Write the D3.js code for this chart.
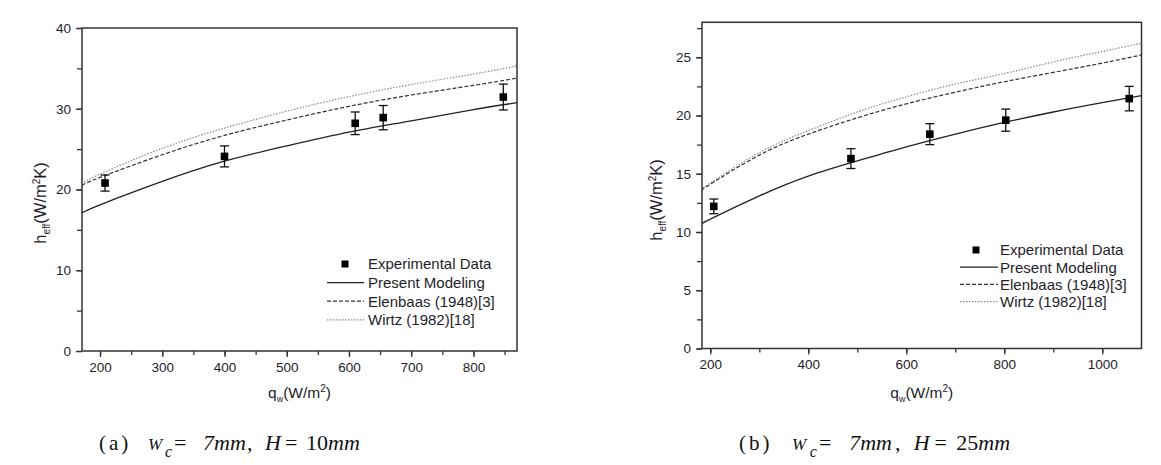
<!DOCTYPE html>
<html><head><meta charset="utf-8">
<script src="https://cdn.jsdelivr.net/npm/d3@7"></script>
<style>body{margin:0;background:#fff}svg{display:block}</style></head>
<body>
<svg id="c" width="1161" height="465"></svg>
<script>
// ---------- Panel (a) data ----------
const qA_exp = [208, 400, 610, 655, 848];
const hA_exp = [20.8, 24.1, 28.2, 28.9, 31.45];
const eA_exp = [1.0, 1.3, 1.4, 1.5, 1.6];
const qA_model = [171, 200, 300, 400, 500, 600, 700, 800, 870];
const hA_present  = [17.1, 18.1, 21.0, 23.5, 25.4, 27.1, 28.5, 29.9, 30.75];
const hA_elenbaas = [20.5, 21.5, 24.3, 26.7, 28.6, 30.3, 31.7, 32.9, 33.8];
const hA_wirtz    = [20.7, 21.9, 25.1, 27.6, 29.7, 31.5, 33.0, 34.3, 35.3];
const xTicksA = [200, 300, 400, 500, 600, 700, 800];
const yTicksA = [0, 10, 20, 30, 40];

// ---------- Panel (b) data ----------
const qB_exp = [207, 487, 648, 803, 1055];
const hB_exp = [12.2, 16.3, 18.4, 19.6, 21.45];
const eB_exp = [0.63, 0.85, 0.9, 0.95, 1.05];
const qB_model = [183, 200, 300, 400, 500, 600, 700, 800, 900, 1000, 1080];
const hB_present  = [10.7, 11.1, 13.1, 14.8, 16.1, 17.3, 18.4, 19.4, 20.3, 21.1, 21.7];
const hB_elenbaas = [13.6, 14.1, 16.6, 18.4, 19.8, 21.0, 22.0, 22.9, 23.7, 24.5, 25.2];
const hB_wirtz    = [13.7, 14.2, 16.8, 18.7, 20.3, 21.6, 22.7, 23.6, 24.6, 25.5, 26.2];
const xTicksB = [200, 400, 600, 800, 1000];
const yTicksB = [0, 5, 10, 15, 20, 25];

const legendLabels = ["Experimental Data", "Present Modeling", "Elenbaas (1948)[3]", "Wirtz (1982)[18]"];

const svg = d3.select("#c");
const FONT = "'Liberation Sans', Arial, sans-serif";
const SERIF = "'Liberation Serif', 'Times New Roman', serif";
const TXT = "#1e1e2a";

const styles = [
  {stroke: "#222", width: 1.3, dash: null},
  {stroke: "#333", width: 1.2, dash: "4,2"},
  {stroke: "#8a8a8a", width: 1.2, dash: "1.5,1.5"}
];

function panel(cfg) {
  const x = d3.scaleLinear().domain(cfg.xDom).range([cfg.x0, cfg.x1]);
  const y = d3.scaleLinear().domain(cfg.yDom).range([cfg.y1, cfg.y0]);
  const g = svg.append("g");
  const clipId = "clip" + cfg.id;
  svg.append("clipPath").attr("id", clipId).append("rect")
    .attr("x", cfg.x0).attr("y", cfg.y0).attr("width", cfg.x1 - cfg.x0).attr("height", cfg.y1 - cfg.y0);

  // minor ticks
  const yMinor = d3.range(cfg.yDom[0], cfg.yDom[1] + 1e-9, cfg.yMinorStep);
  const xMinor = d3.range(Math.ceil(cfg.xDom[0] / cfg.xMinorStep) * cfg.xMinorStep, cfg.xDom[1] + 1e-9, cfg.xMinorStep);
  const gmY = g.append("g").attr("transform", `translate(${cfg.x0},0)`)
    .call(d3.axisLeft(y).tickValues(yMinor).tickSize(5).tickFormat(""));
  gmY.select(".domain").remove();
  const gmX = g.append("g").attr("transform", `translate(0,${cfg.y1})`)
    .call(d3.axisBottom(x).tickValues(xMinor).tickSize(4).tickFormat(""));
  gmX.select(".domain").remove();

  // major ticks
  const gy = g.append("g").attr("transform", `translate(${cfg.x0},0)`)
    .call(d3.axisLeft(y).tickValues(cfg.yTicks).tickSize(6).tickPadding(5).tickFormat(d3.format("d")));
  gy.select(".domain").remove();
  const gx = g.append("g").attr("transform", `translate(0,${cfg.y1})`)
    .call(d3.axisBottom(x).tickValues(cfg.xTicks).tickSize(6).tickPadding(5).tickFormat(d3.format("d")));
  gx.select(".domain").remove();
  g.selectAll(".tick line").attr("stroke", "#333").attr("stroke-width", 1.3);
  g.selectAll(".tick text").attr("font-family", FONT).attr("font-size", 13.5).attr("fill", TXT);

  // frame
  g.append("rect").attr("x", cfg.x0).attr("y", cfg.y0)
    .attr("width", cfg.x1 - cfg.x0).attr("height", cfg.y1 - cfg.y0)
    .attr("fill", "none").attr("stroke", "#333").attr("stroke-width", 1.5);

  // curves
  const line = d3.line().x(d => x(d[0])).y(d => y(d[1])).curve(d3.curveNatural);
  const plotG = g.append("g").attr("clip-path", `url(#${clipId})`);
  cfg.curves.forEach((vals, i) => {
    const pts = cfg.qModel.map((q, k) => [q, vals[k]]);
    plotG.append("path").datum(pts).attr("d", line)
      .attr("fill", "none").attr("stroke", styles[i].stroke)
      .attr("stroke-width", styles[i].width)
      .attr("stroke-dasharray", styles[i].dash);
  });

  // experimental points with error bars
  const exp = cfg.qExp.map((q, k) => ({q, h: cfg.hExp[k], e: cfg.eExp[k]}));
  const eg = g.append("g");
  exp.forEach(d => {
    const cx = x(d.q), top = y(d.h + d.e), bot = y(d.h - d.e);
    eg.append("line").attr("x1", cx).attr("x2", cx).attr("y1", top).attr("y2", bot).attr("stroke", "#111").attr("stroke-width", 1.3);
    [top, bot].forEach(yy => eg.append("line").attr("x1", cx - 4.5).attr("x2", cx + 4.5).attr("y1", yy).attr("y2", yy).attr("stroke", "#111").attr("stroke-width", 1.3));
    eg.append("rect").attr("x", cx - 3.8).attr("y", y(d.h) - 3.8).attr("width", 7.6).attr("height", 7.6).attr("fill", "#000");
  });

  // legend
  const L = cfg.legend;
  const lg = g.append("g");
  legendLabels.forEach((lab, i) => {
    const yy = L.y + i * L.dy;
    if (i === 0) {
      lg.append("rect").attr("x", L.mx - 3.5).attr("y", yy - 3.5).attr("width", 7).attr("height", 7).attr("fill", "#000");
    } else {
      const s = styles[i - 1];
      lg.append("line").attr("x1", L.lx0).attr("x2", L.lx1).attr("y1", yy).attr("y2", yy)
        .attr("stroke", s.stroke).attr("stroke-width", s.width).attr("stroke-dasharray", s.dash);
    }
    lg.append("text").attr("x", L.tx).attr("y", yy).attr("dy", "0.36em")
      .attr("font-family", FONT).attr("font-size", 15).attr("fill", TXT).text(lab);
  });

  // y title
  const yt = g.append("text").attr("transform", `translate(${cfg.yTitle[0]},${cfg.yTitle[1]}) rotate(-90)`)
    .attr("text-anchor", "middle").attr("font-family", FONT).attr("font-size", 16.5).attr("fill", TXT);
  yt.append("tspan").text("h");
  yt.append("tspan").attr("font-size", 10).attr("dy", 4).text("eff");
  yt.append("tspan").attr("dy", -4).text("(W/m");
  yt.append("tspan").attr("font-size", 10).attr("dy", -6).text("2");
  yt.append("tspan").attr("dy", 6).text("K)");

  // x title
  const xt = g.append("text").attr("x", (cfg.x0 + cfg.x1) / 2).attr("y", cfg.xTitleY)
    .attr("text-anchor", "middle").attr("font-family", FONT).attr("font-size", 15.5).attr("fill", TXT);
  xt.append("tspan").text("q");
  xt.append("tspan").attr("font-size", 9).attr("dy", 4).text("w");
  xt.append("tspan").attr("dy", -4).text("(W/m");
  xt.append("tspan").attr("font-size", 10).attr("dy", -6).text("2");
  xt.append("tspan").attr("dy", 6).text(")");

  // caption
  const c = cfg.caption, k = c.k, t = c.tx;
  svg.append("text").attr("x", c.px).attr("y", 450).attr("font-family", SERIF).attr("font-size", 21)
    .attr("letter-spacing", 3).attr("fill", "#111").text(c.label);
  const ct = svg.append("text").attr("y", 450).attr("font-family", SERIF).attr("font-size", 22).attr("fill", "#111");
  ct.append("tspan").attr("x", t).attr("font-style", "italic").attr("font-size", 17).text("W");
  ct.append("tspan").attr("x", t + 17 * k).attr("font-style", "italic").attr("font-size", 16).attr("dy", 7).text("c");
  ct.append("tspan").attr("x", t + 26 * k).attr("dy", -7).text("=");
  ct.append("tspan").attr("x", t + 55 * k).attr("font-style", "italic").text("7mm");
  ct.append("tspan").attr("x", t + 99 * k).text(",");
  ct.append("tspan").attr("x", t + 117 * k).attr("font-style", "italic").text("H");
  ct.append("tspan").attr("x", t + 137 * k).text("=");
  ct.append("tspan").attr("x", t + 158 * k).text(c.h);
  ct.append("tspan").attr("font-style", "italic").text("mm");
}

panel({
  id: "A", x0: 82, x1: 517, y0: 28, y1: 351,
  xDom: [171, 870], yDom: [0, 40], xTicks: xTicksA, yTicks: yTicksA,
  xMinorStep: 50, yMinorStep: 5,
  qModel: qA_model, curves: [hA_present, hA_elenbaas, hA_wirtz],
  qExp: qA_exp, hExp: hA_exp, eExp: eA_exp,
  legend: {mx: 345, lx0: 327, lx1: 364, tx: 368, y: 264, dy: 18.6},
  yTitle: [46, 203], xTitleY: 398,
  caption: {px: 99, label: "(a)", tx: 148, h: "10", k: 1.0}
});

panel({
  id: "B", x0: 702, x1: 1141.5, y0: 22.3, y1: 348.5,
  xDom: [183, 1080], yDom: [0, 28], xTicks: xTicksB, yTicks: yTicksB,
  xMinorStep: 100, yMinorStep: 2.5,
  qModel: qB_model, curves: [hB_present, hB_elenbaas, hB_wirtz],
  qExp: qB_exp, hExp: hB_exp, eExp: eB_exp,
  legend: {mx: 976, lx0: 960, lx1: 998, tx: 1000, y: 250, dy: 17.2},
  yTitle: [662, 200], xTitleY: 398,
  caption: {px: 739, label: "(b)", tx: 792, h: "25", k: 1.04}
});
</script>
</body></html>
